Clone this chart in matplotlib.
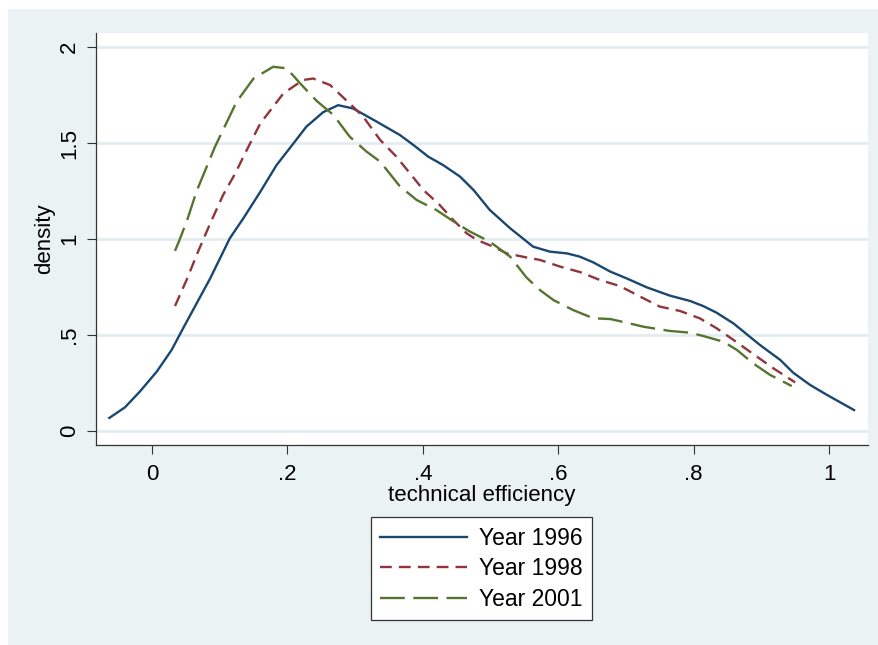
import numpy as np
import matplotlib.pyplot as plt
from matplotlib.patches import Rectangle

plt.rcParams['font.family'] = ['Liberation Sans', 'DejaVu Sans']

# kernel density estimates
x_1996 = [-0.063, -0.040, -0.018, 0.007, 0.029, 0.046, 0.066, 0.086, 0.115, 0.135,
          0.160, 0.184, 0.205, 0.228, 0.253, 0.275, 0.297, 0.332, 0.366, 0.386,
          0.408, 0.430, 0.455, 0.475, 0.499, 0.529, 0.563, 0.588, 0.613, 0.632,
          0.652, 0.677, 0.701, 0.731, 0.765, 0.795, 0.814, 0.834, 0.859, 0.883,
          0.898, 0.928, 0.947, 0.972, 0.997, 1.037]
y_1996 = [0.068, 0.123, 0.205, 0.309, 0.422, 0.535, 0.665, 0.795, 1.004, 1.108,
          1.246, 1.385, 1.480, 1.585, 1.661, 1.697, 1.680, 1.611, 1.542, 1.490,
          1.429, 1.385, 1.325, 1.255, 1.151, 1.056, 0.960, 0.934, 0.925, 0.908,
          0.878, 0.830, 0.795, 0.748, 0.705, 0.677, 0.651, 0.616, 0.560, 0.491,
          0.448, 0.370, 0.304, 0.240, 0.188, 0.109]

x_1998 = [0.034, 0.051, 0.068, 0.086, 0.105, 0.123, 0.137, 0.160, 0.194, 0.223,
          0.238, 0.263, 0.297, 0.312, 0.337, 0.361, 0.381, 0.401, 0.425, 0.445,
          0.465, 0.480, 0.504, 0.524, 0.553, 0.573, 0.603, 0.632, 0.662, 0.691,
          0.721, 0.750, 0.780, 0.809, 0.834, 0.859, 0.888, 0.918, 0.950]
y_1998 = [0.651, 0.786, 0.934, 1.081, 1.229, 1.342, 1.443, 1.602, 1.758, 1.828,
          1.836, 1.802, 1.689, 1.637, 1.516, 1.429, 1.342, 1.255, 1.177, 1.099,
          1.029, 0.995, 0.960, 0.925, 0.904, 0.891, 0.856, 0.828, 0.786, 0.755,
          0.700, 0.648, 0.625, 0.587, 0.535, 0.474, 0.401, 0.326, 0.253]

x_2001 = [0.034, 0.041, 0.052, 0.066, 0.093, 0.125, 0.150, 0.179, 0.199, 0.219,
          0.243, 0.268, 0.292, 0.317, 0.337, 0.366, 0.391, 0.420, 0.450, 0.470,
          0.499, 0.529, 0.553, 0.573, 0.593, 0.622, 0.652, 0.677, 0.701, 0.726,
          0.765, 0.795, 0.814, 0.844, 0.864, 0.888, 0.913, 0.945]
y_2001 = [0.938, 0.998, 1.099, 1.250, 1.480, 1.715, 1.836, 1.897, 1.889, 1.810,
          1.720, 1.646, 1.533, 1.455, 1.403, 1.275, 1.203, 1.151, 1.081, 1.038,
          0.986, 0.908, 0.800, 0.734, 0.682, 0.630, 0.587, 0.583, 0.564, 0.543,
          0.521, 0.512, 0.495, 0.465, 0.422, 0.352, 0.292, 0.234]

x_ticks = [0, 0.2, 0.4, 0.6, 0.8, 1]
x_labels = ['0', '.2', '.4', '.6', '.8', '1']
y_ticks = [0, 0.5, 1, 1.5, 2]
y_labels = ['0', '.5', '1', '1.5', '2']

bg = '#EAF2F3'
fs = 16

fig = plt.figure(figsize=(8.79, 6.45), dpi=100, facecolor='white')
fig.patches.append(Rectangle((8 / 879, 0), 1, 1 - 9 / 645, transform=fig.transFigure,
                             facecolor=bg, edgecolor='none', zorder=-10))
ax = fig.add_axes([96 / 879, 1 - 445 / 645, (868 - 96) / 879, (445 - 33) / 645])
ax.set_facecolor('white')

ax.plot(x_1996, y_1996, color='#1A476F', lw=1.7, label='Year 1996')
ax.plot(x_1998, y_1998, color='#90353B', lw=1.7, dashes=(5, 3), label='Year 1998')
ax.plot(x_2001, y_2001, color='#55752F', lw=1.7, dashes=(10.5, 3.6), label='Year 2001')

ax.set_xlim(-0.0827, 1.0576)
ax.set_ylim(-0.073, 2.073)
ax.set_xticks(x_ticks, x_labels, fontsize=fs)
ax.set_yticks(y_ticks, y_labels, fontsize=fs, rotation=90, va='center')
ax.tick_params(axis='both', length=6.5, width=0.8, color='#333333')
ax.tick_params(axis='x', pad=7)
ax.tick_params(axis='y', pad=5)
ax.grid(axis='y', color='#E3EDF0', lw=2)
ax.set_axisbelow(True)
for s in ['top', 'right']:
    ax.spines[s].set_visible(False)
for s in ['left', 'bottom']:
    ax.spines[s].set_color('#333333')
    ax.spines[s].set_linewidth(0.9)

ax.set_xlabel('technical efficiency', fontsize=fs, labelpad=0)
ax.set_ylabel('density', fontsize=fs, labelpad=3)

leg = fig.legend(loc='upper center', bbox_to_anchor=(481.5 / 879, 1 - 517 / 645),
                 fontsize=16.5, frameon=True, fancybox=False, framealpha=1,
                 handlelength=3.8, handletextpad=0.5, labelspacing=0.33,
                 borderpad=0.42, borderaxespad=0)
leg.get_frame().set_edgecolor('#333333')
leg.get_frame().set_linewidth(0.9)

fig.savefig('out.png', dpi=100, facecolor='white')
